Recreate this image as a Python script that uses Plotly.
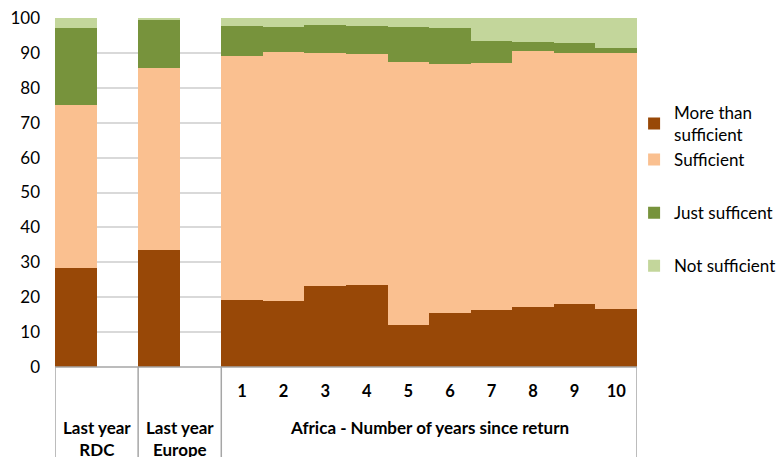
import plotly.graph_objects as go

# Bar categories (spacer categories keep the empty slots between groups)
categories = ["RDC", "Europe", "1", "2", "3", "4", "5", "6", "7", "8", "9", "10"]
category_order = ["RDC", "gap_a", "Europe", "gap_b",
                  "1", "2", "3", "4", "5", "6", "7", "8", "9", "10"]
year_ticks = ["1", "2", "3", "4", "5", "6", "7", "8", "9", "10"]

# Share of respondents (%) per category
more_than_sufficient = [28.5, 33.4, 19.1, 19.0, 23.1, 23.4, 11.9, 15.6, 16.4, 17.2, 18.0, 16.5]
sufficient = [46.6, 52.3, 69.9, 71.4, 66.8, 66.3, 75.4, 71.2, 70.6, 73.3, 71.9, 73.5]
just_sufficient = [22.0, 13.7, 8.7, 7.1, 8.1, 8.1, 10.1, 10.4, 6.4, 2.7, 2.8, 1.4]
not_sufficient = [2.9, 0.6, 2.3, 2.5, 2.0, 2.2, 2.6, 2.8, 6.6, 6.8, 7.3, 8.6]

series = [
    ("More than<br>sufficient", more_than_sufficient, "#984807", "ga"),
    ("Sufficient", sufficient, "#FAC090", "ga"),
    ("Just sufficent", just_sufficient, "#77933C", "gb"),
    ("Not sufficient", not_sufficient, "#C3D69B", "gc"),
]

group_labels = ["Last year<br>RDC", "Last year<br>Europe",
                "Africa - Number of years since return"]

FONT = "Lato, Calibri, sans-serif"
AXIS_GREY = "#A6A6A6"

fig = go.Figure()
for name, vals, color, grp in series:
    fig.add_trace(go.Bar(
        x=categories, y=vals, name=name, marker_color=color,
        marker_line_width=0, legendgroup=grp,
    ))

# Group labels below the category ticks
label_pos = [0.5, 2.5, 8.5]
for pos, text in zip(label_pos, group_labels):
    fig.add_annotation(
        x=pos, xref="x", y=-0.137, yref="paper", yanchor="top",
        text=f"<b>{text}</b>", showarrow=False,
        font=dict(family=FONT, size=17, color="#000000"),
    )

# Axis line and group dividers
fig.add_shape(type="line", xref="paper", yref="paper", x0=0, x1=1, y0=0, y1=0,
              line=dict(color=AXIS_GREY, width=1.5))
for xpos in [-0.5, 1.5, 3.5, 13.5]:
    fig.add_shape(type="line", xref="x", yref="paper", x0=xpos, x1=xpos,
                  y0=0, y1=-0.3, line=dict(color=AXIS_GREY, width=1.5))

fig.update_layout(
    width=777, height=457,
    barmode="stack", bargap=0,
    plot_bgcolor="white", paper_bgcolor="white",
    margin=dict(l=55, r=140, t=18, b=90, autoexpand=False),
    font=dict(family=FONT, size=17, color="#000000"),
    showlegend=True,
    legend=dict(
        x=0.995, xanchor="left", y=0.78, yanchor="top",
        traceorder="grouped", tracegroupgap=28,
        bgcolor="rgba(0,0,0,0)",
        font=dict(family=FONT, size=17, color="#000000"),
        itemwidth=30,
    ),
    xaxis=dict(
        type="category", categoryorder="array", categoryarray=category_order,
        range=[-0.5, 13.5], tickmode="array", tickvals=year_ticks,
        ticktext=[f"<b>{t}</b>" for t in year_ticks],
        tickfont=dict(family=FONT, size=16.5, color="#000000"),
        showgrid=False, zeroline=False, showline=False, ticks="",
        ticklabelstandoff=12,
    ),
    yaxis=dict(
        range=[0, 100], dtick=10, showgrid=True, gridcolor="#D9D9D9",
        gridwidth=1.5, zeroline=False, showline=False, ticks="",
        tickfont=dict(family=FONT, size=17, color="#000000"),
        ticklabelstandoff=14,
    ),
)

fig.write_html("out.html")
